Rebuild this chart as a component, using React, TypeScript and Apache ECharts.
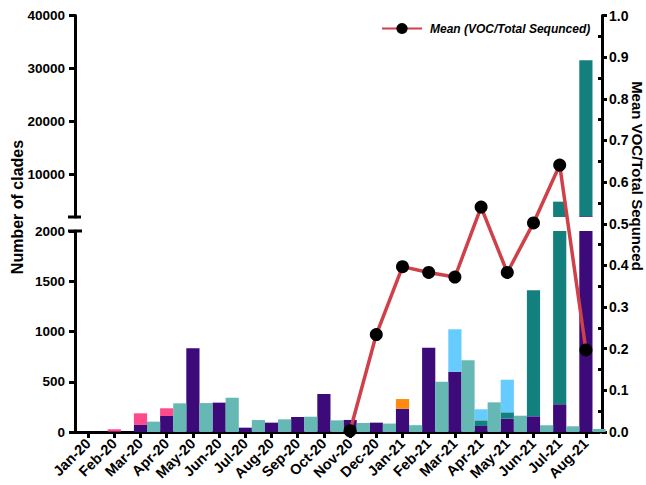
import React, { useEffect, useRef } from 'react';
import * as echarts from 'echarts';

// ---------- data ----------
const months = ['Jan-20', 'Feb-20', 'Mar-20', 'Apr-20', 'May-20', 'Jun-20', 'Jul-20', 'Aug-20', 'Sep-20', 'Oct-20',
  'Nov-20', 'Dec-20', 'Jan-21', 'Feb-21', 'Mar-21', 'Apr-21', 'May-21', 'Jun-21', 'Jul-21', 'Aug-21'];
// stacked bar at each month tick
const purple = [0, 5, 70, 159, 833, 292, 43, 93, 149, 378, 120, 93, 232, 839, 600, 60, 132, 156, 276, 2150];
const pink = [0, 22, 116, 77, 0, 0, 0, 0, 0, 0, 0, 0, 0, 0, 0, 0, 0, 0, 0, 0];
const orange = [0, 0, 0, 0, 0, 0, 0, 0, 0, 0, 0, 0, 96, 0, 0, 0, 0, 0, 0, 0];
const darkTeal = [0, 0, 0, 0, 0, 0, 0, 0, 0, 0, 0, 0, 0, 0, 0, 56, 64, 1254, 4620, 29400];
const lightBlue = [0, 0, 0, 0, 0, 0, 0, 0, 0, 0, 0, 0, 0, 0, 422, 110, 324, 0, 0, 0];
// bar right after each month tick
const lightTeal = [0, 0, 103, 285, 288, 341, 119, 126, 152, 116, 90, 84, 68, 500, 713, 295, 162, 67, 57, 30];
// line on right axis
const meanVoc = [null, null, null, null, null, null, null, null, null, null,
  0.003, 0.234, 0.397, 0.383, 0.372, 0.540, 0.383, 0.502, 0.641, 0.197];
const leftTicksBottom = [0, 500, 1000, 1500, 2000];
const leftTicksTop = [10000, 20000, 30000, 40000];
const rightMinor = [0.05, 0.15, 0.25, 0.35, 0.45, 0.55, 0.65, 0.75, 0.85, 0.95];
const lineName = 'Mean (VOC/Total Sequnced)';

// ---------- helpers ----------
const slots: string[] = ['', ...months.flatMap((m) => [m, m + '|b'])];
const atMonth = (arr: (number | null)[], fill: any) => [fill, ...arr.flatMap((v) => [v, fill])];
const atHalf = (arr: number[]) => [0, ...arr.flatMap((v) => [0, v])];
const isMonth = (i: number) => i % 2 === 1;

const FONT = '"Liberation Sans", Arial, Helvetica, sans-serif';
const GL = 75, GW = 524;

const barDefs = [
  { name: 'Lineage A', color: '#3d0a7a', data: atMonth(purple, 0) },
  { name: 'Lineage B', color: '#ff4a8c', data: atMonth(pink, 0) },
  { name: 'Lineage C', color: '#ff8a10', data: atMonth(orange, 0) },
  { name: 'Lineage D', color: '#14807e', data: atMonth(darkTeal, 0) },
  { name: 'Lineage E', color: '#66ccff', data: atMonth(lightBlue, 0) },
  { name: 'Other', color: '#66b8b4', data: atHalf(lightTeal) },
];

export default function App() {
  const ref = useRef<HTMLDivElement>(null);
  useEffect(() => {
    if (!ref.current) return;
    const chart = echarts.init(ref.current, null, { renderer: 'svg' });
    const axisBlack = { color: '#000', width: 3 };
    const hiddenX = (gridIndex: number) => ({
      type: 'category', gridIndex, data: slots, boundaryGap: false, show: false,
    });
    const labelStyle = { fontFamily: FONT, fontWeight: 'bold', fontSize: 13.5, color: '#000' };
    const series: any[] = [];
    [0, 1].forEach((g) => {
      barDefs.forEach((b) => {
        series.push({
          type: 'bar', name: b.name, xAxisIndex: g, yAxisIndex: g, stack: 'st' + g,
          barWidth: 13.2, data: b.data, itemStyle: { color: b.color },
          clip: true,
        });
      });
    });
    series.push({
      type: 'line', name: lineName, xAxisIndex: 2, yAxisIndex: 2,
      data: atMonth(meanVoc, null), connectNulls: true, z: 10,
      symbol: 'circle', symbolSize: 13, showAllSymbol: true,
      lineStyle: { color: '#cf4049', width: 3.5 },
      itemStyle: { color: '#000' },
    });
    chart.setOption({
      animation: false,
      textStyle: { fontFamily: FONT },
      legend: {
        data: [lineName], left: 381, top: 22.5, padding: 0, itemWidth: 40, itemHeight: 14, itemGap: 6,
        textStyle: { fontFamily: FONT, fontWeight: 'bold', fontStyle: 'italic', fontSize: 12, color: '#000', padding: [0, 0, 0, 3] },
      },
      grid: [
        { left: GL, width: GW, top: 231, height: 201 },
        { left: GL, width: GW, top: 15.5, height: 201.5 },
        { left: GL, width: GW, top: 15.5, height: 416.5 },
      ],
      xAxis: [
        {
          type: 'category', gridIndex: 0, data: slots, boundaryGap: false,
          axisLine: { lineStyle: axisBlack },
          axisTick: { interval: (i: number) => isMonth(i), length: 6, lineStyle: axisBlack },
          axisLabel: {
            interval: (i: number) => isMonth(i), rotate: 45, margin: 9,
            ...labelStyle, fontSize: 14.5,
            formatter: (v: string) => v.replace('|b', ''),
          },
        },
        hiddenX(1),
        hiddenX(2),
      ],
      yAxis: [
        {
          type: 'value', gridIndex: 0, min: 0, max: 2000, interval: 500,
          axisLine: { show: true, lineStyle: axisBlack },
          axisTick: { show: true, length: 6, lineStyle: axisBlack, customValues: leftTicksBottom },
          axisLabel: { ...labelStyle, margin: 10, customValues: leftTicksBottom, formatter: (v: number) => String(v) },
          splitLine: { show: false },
        },
        {
          type: 'value', gridIndex: 1, min: 2000, max: 40000,
          axisLine: { show: true, lineStyle: axisBlack },
          axisTick: { show: true, length: 6, lineStyle: axisBlack, customValues: leftTicksTop },
          axisLabel: { ...labelStyle, margin: 10, customValues: leftTicksTop, formatter: (v: number) => String(v) },
          splitLine: { show: false },
        },
        {
          type: 'value', gridIndex: 2, position: 'right', offset: 3, min: 0, max: 1, interval: 0.1,
          axisLine: { show: true, lineStyle: axisBlack },
          axisTick: { show: true, length: 5, lineStyle: axisBlack },
          axisLabel: { ...labelStyle, fontSize: 14, margin: 7, formatter: (v: number) => v.toFixed(1) },
          splitLine: { show: false },
        },
        {
          type: 'value', gridIndex: 2, position: 'right', offset: 3, min: 0, max: 1,
          axisLine: { show: false },
          axisTick: { show: true, inside: true, length: 4, lineStyle: axisBlack, customValues: rightMinor },
          axisLabel: { show: false },
          splitLine: { show: false },
        },
      ],
      graphic: [
        // axis break caps
        { type: 'line', shape: { x1: 68, y1: 217, x2: 81, y2: 217 }, style: { stroke: '#000', lineWidth: 3 } },
        { type: 'line', shape: { x1: 68, y1: 231, x2: 82, y2: 231 }, style: { stroke: '#000', lineWidth: 3 } },
        // join of x axis with right axis
        { type: 'line', shape: { x1: 598, y1: 432, x2: 603, y2: 432 }, style: { stroke: '#000', lineWidth: 3 } },
        {
          type: 'text', x: 17, y: 207, rotation: Math.PI / 2,
          style: {
            text: 'Number of clades', fontFamily: FONT, fontWeight: 'bold', fontSize: 16,
            fill: '#000', textAlign: 'center', textVerticalAlign: 'middle',
          },
        },
        {
          type: 'text', x: 637, y: 176, rotation: -Math.PI / 2,
          style: {
            text: 'Mean VOC/Total Sequnced', fontFamily: FONT, fontWeight: 'bold', fontSize: 15,
            fill: '#000', textAlign: 'center', textVerticalAlign: 'middle',
          },
        },
      ],
      series,
    });
    return () => chart.dispose();
  }, []);
  return <div ref={ref} style={{ position: 'fixed', left: 0, top: 0, width: 646, height: 485, background: '#fff' }} />;
}
